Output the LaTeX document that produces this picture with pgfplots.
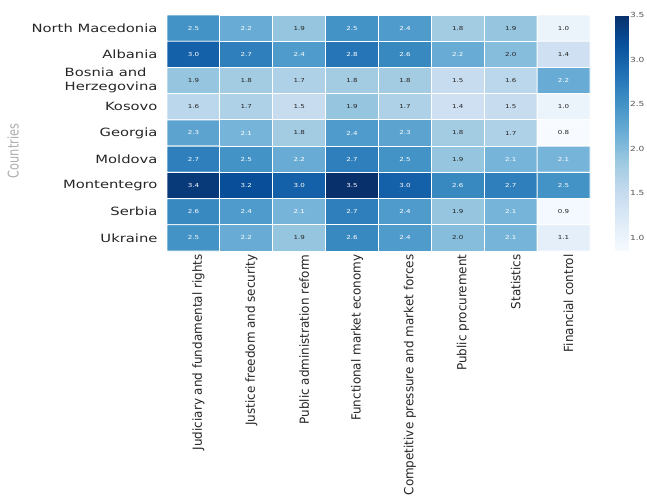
\documentclass[border=0pt]{standalone}
\usepackage{fontspec}
\setmainfont{DejaVu Sans}
\usepackage{graphicx}
\usepackage{pgfplots}
\pgfplotsset{compat=1.18}
\usepackage{pgfplotstable}

\definecolor{labelgray}{HTML}{262626}
\definecolor{softgray}{HTML}{ADADAD}
\definecolor{cbgray}{HTML}{555555}

% matplotlib "Blues"
\pgfplotsset{colormap={blues}{rgb255=(247,251,255) rgb255=(222,235,247)
  rgb255=(198,219,239) rgb255=(158,202,225) rgb255=(107,174,214)
  rgb255=(66,146,198) rgb255=(33,113,181) rgb255=(8,81,156) rgb255=(8,48,107)}}

% x = indicator (column), y = country (row), v = score
\pgfplotstableread{
x y v
0 0 2.5
1 0 2.2
2 0 1.9
3 0 2.5
4 0 2.4
5 0 1.8
6 0 1.9
7 0 1.0
0 1 3.0
1 1 2.7
2 1 2.4
3 1 2.8
4 1 2.6
5 1 2.2
6 1 2.0
7 1 1.4
0 2 1.9
1 2 1.8
2 2 1.7
3 2 1.8
4 2 1.8
5 2 1.5
6 2 1.6
7 2 2.2
0 3 1.6
1 3 1.7
2 3 1.5
3 3 1.9
4 3 1.7
5 3 1.4
6 3 1.5
7 3 1.0
0 4 2.3
1 4 2.1
2 4 1.8
3 4 2.4
4 4 2.3
5 4 1.8
6 4 1.7
7 4 0.8
0 5 2.7
1 5 2.5
2 5 2.2
3 5 2.7
4 5 2.5
5 5 1.9
6 5 2.1
7 5 2.1
0 6 3.4
1 6 3.2
2 6 3.0
3 6 3.5
4 6 3.0
5 6 2.6
6 6 2.7
7 6 2.5
0 7 2.6
1 7 2.4
2 7 2.1
3 7 2.7
4 7 2.4
5 7 1.9
6 7 2.1
7 7 0.9
0 8 2.5
1 8 2.2
2 8 1.9
3 8 2.6
4 8 2.4
5 8 2.0
6 8 2.1
7 8 1.1
}\scores

\newcommand{\wide}[1]{\scalebox{1.3}[1]{#1}}
\newcommand{\tall}[1]{\scalebox{1}[1.05]{#1}}

\begin{document}
\begin{tikzpicture}
\useasboundingbox (0,0) rectangle (647bp,-501bp);
\begin{axis}[
  at={(167bp,-15bp)}, anchor=north west,
  scale only axis, width=423bp, height=236bp,
  xmin=-0.5, xmax=7.5, ymin=-0.5, ymax=8.5,
  y dir=reverse,
  axis line style={draw=none},
  major tick length=0pt,
  point meta min=0.85, point meta max=3.5,
  colormap name=blues,
  /pgf/number format/assume math mode=true,
  xtick={0,...,7}, ytick={0,...,8},
  xticklabels={
    \tall{Judiciary and fundamental rights},
    \tall{Justice freedom and security},
    \tall{Public administration reform},
    \tall{Functional market economy},
    \tall{Competitive pressure and market forces},
    \tall{Public procurement},
    \tall{Statistics},
    \tall{Financial control}},
  yticklabels={
    \wide{North Macedonia},
    \wide{Albania},
    \wide{\begin{tabular}{@{}l@{}}Bosnia and\\Herzegovina\end{tabular}},
    \wide{Kosovo},
    \wide{Georgia},
    \wide{Moldova},
    \wide{Montentegro},
    \wide{Serbia},
    \wide{Ukraine}},
  xticklabel style={rotate=90, anchor=east, yshift=-5bp,
    font=\fontsize{12}{14}\selectfont, text=labelgray},
  yticklabel style={anchor=east, xshift=-6bp,
    font=\fontsize{11.4}{14.5}\selectfont, text=labelgray},
  ylabel={\scalebox{1}[1.3]{Countries}},
  ylabel style={at={(axis description cs:-0.364,0.424)}, anchor=center,
    font=\fontsize{11.4}{13}\selectfont, text=softgray},
  colorbar,
  colorbar style={
    at={(parent axis.north east)}, anchor=north west, xshift=17bp,
    width=13bp,
    axis line style={draw=none},
    major tick length=0pt,
    ytick={1,1.5,2,2.5,3,3.5},
    yticklabel={\wide{\pgfmathprintnumber{\tick}}},
    yticklabel style={font=\fontsize{7}{8}\selectfont, text=cbgray,
      xshift=-2bp,
      /pgf/number format/.cd, fixed, fixed zerofill, precision=1,
      assume math mode=true},
  },
]
  \addplot[matrix plot*, mesh/cols=8, point meta=explicit,
    draw=white, line width=0.9pt] table[meta=v] {\scores};

  % value written in each cell
  \addplot[only marks, mark size=0pt, point meta=explicit,
    nodes near coords={%
      \pgfmathparse{\pgfplotspointmetatransformed>460 ? 1 : 0}%
      \ifdim\pgfmathresult pt>0.5pt\color{white}\else\color{labelgray}\fi
      \wide{\pgfmathprintnumber[fixed,fixed zerofill,precision=1]{\pgfplotspointmeta}}},
    nodes near coords align=center,
    every node near coord/.append style={font=\fontsize{5.5}{6}\selectfont,
      anchor=center, inner sep=0pt}]
    table[meta=v] {\scores};
\end{axis}
\end{tikzpicture}
\end{document}
